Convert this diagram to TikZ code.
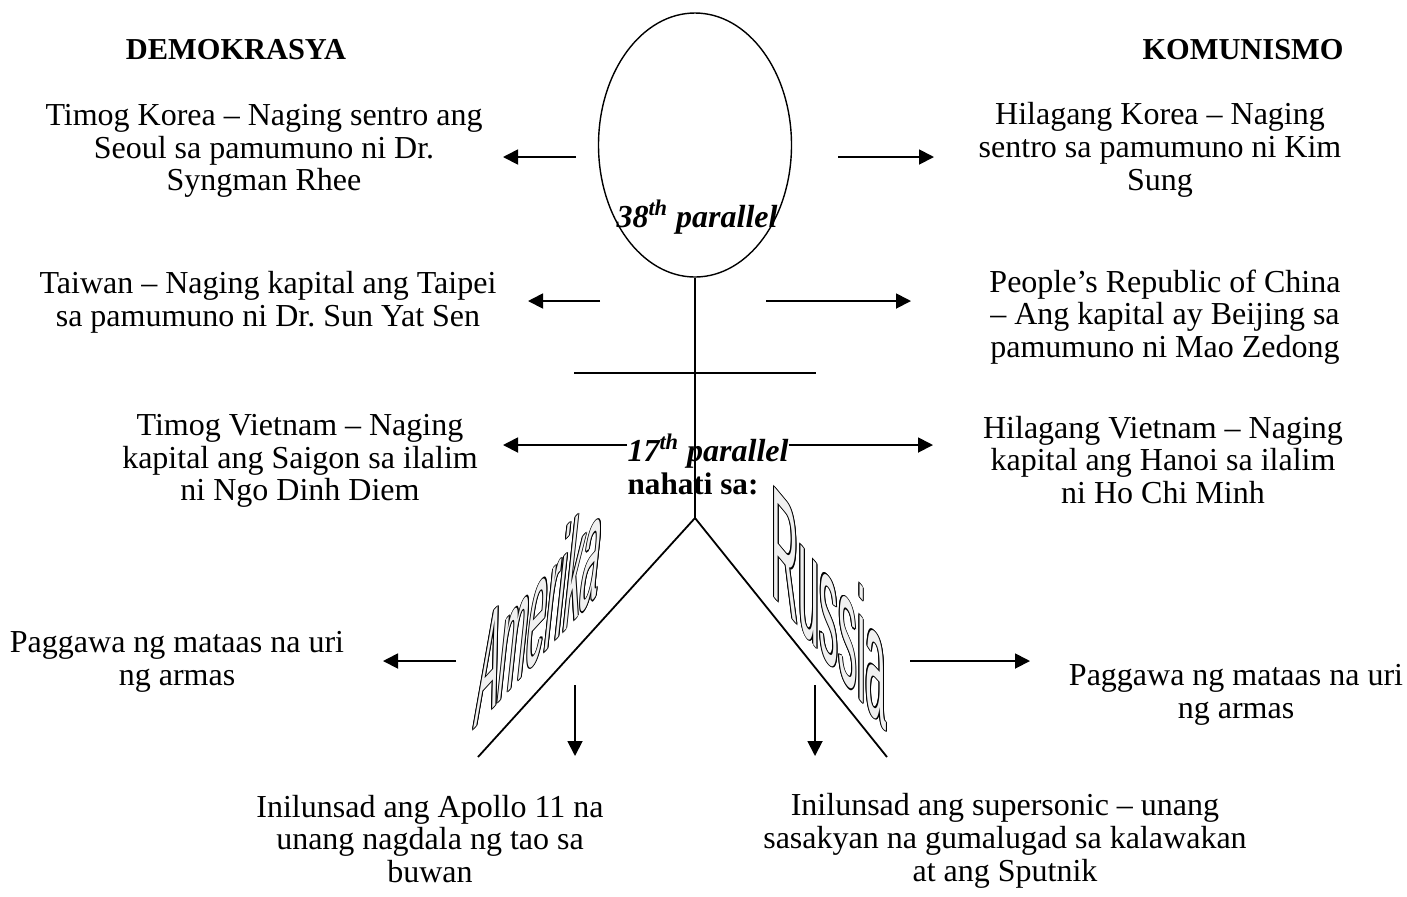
\documentclass[tikz,border=0pt]{standalone}
\usepackage{fontspec}
\setmainfont{Liberation Serif}
\newfontfamily\waAfont[FakeStretch=0.24,FakeSlant=0.12]{Liberation Sans}
\newfontfamily\waRfont[FakeStretch=0.235]{Liberation Sans}
\usetikzlibrary{arrows.meta,shapes.geometric}
\frenchspacing
\newcommand\outlinedword[1]{%
  \rlap{\hspace*{0.5pt}#1}\rlap{\hspace*{-0.5pt}#1}%
  \rlap{\raisebox{0.5pt}{#1}}\rlap{\raisebox{-0.5pt}{#1}}%
  \rlap{\hspace*{0.35pt}\raisebox{0.35pt}{#1}}\rlap{\hspace*{-0.35pt}\raisebox{0.35pt}{#1}}%
  \rlap{\hspace*{0.35pt}\raisebox{-0.35pt}{#1}}\rlap{\hspace*{-0.35pt}\raisebox{-0.35pt}{#1}}%
  {\color{gray!12}#1}}
\tikzset{
  txt/.style={align=center, inner sep=0pt, font=\fontsize{16}{16.4}\selectfont},
  head/.style={inner sep=0pt, font=\fontsize{15.2}{16}\selectfont\bfseries},
  nah/.style={inner sep=0pt, font=\fontsize{15.6}{16.25}\selectfont\bfseries},
  par/.style={inner sep=0pt, font=\fontsize{16}{17}\selectfont\bfseries\itshape},
  ln/.style={line width=0.9pt},
  arr/.style={line width=0.9pt, -{Triangle[length=7.5pt,width=7.5pt]}},
  wa/.style={inner sep=0pt, anchor=base west}
}
\begin{document}
\begin{tikzpicture}[x=0.5pt,y=-0.5pt]
\useasboundingbox (0,0) rectangle (1407,896);
% headings
\node[head] (demo) at (236,50) {DEMOKRASYA};
\node[head] (komu) at (1243,50) {KOMUNISMO};
% text blocks
\node[txt] (tk) at (264,151) {Timog Korea -- Naging sentro ang\\Seoul sa pamumuno ni Dr.\\Syngman Rhee};
\node[txt] (hk) at (1160,150) {Hilagang Korea -- Naging\\sentro sa pamumuno ni Kim\\Sung};
\node[txt] (tw) at (268,302) {Taiwan -- Naging kapital ang Taipei\\sa pamumuno ni Dr. Sun Yat Sen};
\node[txt] (prc) at (1165,317) {People’s Republic of China\\-- Ang kapital ay Beijing sa\\pamumuno ni Mao Zedong};
\node[txt] (tv) at (300,461) {Timog Vietnam -- Naging\\kapital ang Saigon sa ilalim\\ni Ngo Dinh Diem};
\node[txt] (hv) at (1163,460) {Hilagang Vietnam -- Naging\\kapital ang Hanoi sa ilalim\\ni Ho Chi Minh};
\node[txt] (pl) at (177,662) {Paggawa ng mataas na uri\\ng armas};
\node[txt] (pr) at (1236,695) {Paggawa ng mataas na uri\\ng armas};
\node[txt] (bl) at (430,839) {Inilunsad ang Apollo 11 na\\unang nagdala ng tao sa\\buwan};
\node[txt] (br) at (1005,841) {Inilunsad ang supersonic -- unang\\sasakyan na gumalugad sa kalawakan\\at ang Sputnik};
% central figure
\node[draw, line width=0.7pt, ellipse, minimum width=96.5pt, minimum height=132pt, inner sep=0pt] (ell) at (695,145) {};
\node[par] (p38) at (697,217) {38\textsuperscript{th} parallel};
\node[par] (p17) at (708,451) {17\textsuperscript{th} parallel};
\node[nah] (nah) at (693,484) {nahati sa:};
\coordinate (apex) at (695,518);
\coordinate (cl) at (574,373);
\coordinate (cr) at (816,373);
\coordinate (dl) at (478,757);
\coordinate (dr) at (887,757);
\draw[ln] (ell.south) -- (apex);
\draw[ln] (cl) -- (cr);
\draw[ln] (dl) -- (apex) -- (dr);
% wordart
\node[wa, yslant=1.08] (am) at (473,730) {\waAfont\fontsize{70}{70}\selectfont\outlinedword{Amerika}};
\node[wa, yslant=-1.2] (ru) at (771,593) {\waRfont\fontsize{80}{80}\selectfont\outlinedword{Russia}};
% arrows
\coordinate (a1l) at (576,157); \coordinate (a1lt) at (503,157);
\coordinate (a1r) at (838,157); \coordinate (a1rt) at (934,157);
\coordinate (a2l) at (600,301); \coordinate (a2lt) at (528,301);
\coordinate (a2r) at (766,301); \coordinate (a2rt) at (911,301);
\coordinate (a3lt) at (503,445); \coordinate (a3rt) at (933,445);
\coordinate (a4l) at (456,661); \coordinate (a4lt) at (383,661);
\coordinate (a4r) at (910,661); \coordinate (a4rt) at (1030,661);
\coordinate (d1) at (575,685); \coordinate (d1t) at (575,756);
\coordinate (d2) at (815,685); \coordinate (d2t) at (815,756);
\draw[arr] (a1l) -- (a1lt);
\draw[arr] (a1r) -- (a1rt);
\draw[arr] (a2l) -- (a2lt);
\draw[arr] (a2r) -- (a2rt);
\draw[arr] (p17.west |- a3lt) -- (a3lt);
\draw[arr] (p17.east |- a3rt) -- (a3rt);
\draw[arr] (a4l) -- (a4lt);
\draw[arr] (a4r) -- (a4rt);
\draw[arr] (d1) -- (d1t);
\draw[arr] (d2) -- (d2t);
\end{tikzpicture}
\end{document}
